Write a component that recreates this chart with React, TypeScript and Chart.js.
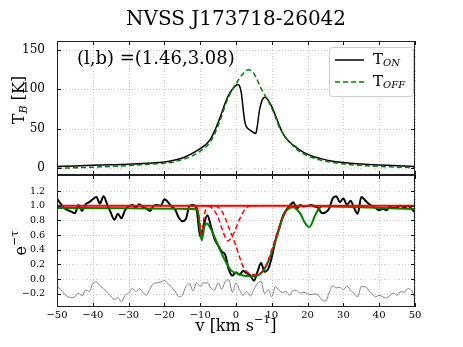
import React, { useEffect, useRef } from 'react';
import { Chart, registerables } from 'chart.js';

Chart.register(...registerables);

const SERIF = '"DejaVu Serif", "Liberation Serif", serif';

// ---------- Title / labels ----------
const titleText = 'NVSS J173718-26042';
const positionText = '(l,b) =(1.46,3.08)';

// ---------- Tick values ----------
const velocityTicks = [-50, -40, -30, -20, -10, 0, 10, 20, 30, 40, 50];
const emissionTicks = [0, 50, 100, 150];
const absorptionTicks = [-0.2, 0, 0.2, 0.4, 0.6, 0.8, 1.0, 1.2];

// ---------- Top panel: emission spectra ----------
const tOnVelocity = [-50, -45, -40, -35, -30, -25, -20, -17, -15, -13, -11, -9, -8, -7, -6, -5, -4, -3, -2, -1, 0, 0.5, 1, 1.5, 2, 2.5, 3, 4, 5, 5.5, 6, 6.5, 7, 7.5, 8.2, 9, 10, 11, 12, 13, 14, 15, 17, 19, 21, 24, 27, 30, 35, 40, 45, 50];
const tOnValues = [2.5, 3, 3.8, 4.5, 5.3, 6.5, 8, 10.5, 13, 17, 22, 28, 32, 38, 47, 58, 70, 83, 93, 100, 105, 106, 104, 95, 75, 58, 52, 48, 45, 44, 55, 72, 82, 88, 90, 86, 78, 67, 55, 45, 38, 33, 26, 20, 16, 12, 9, 7.5, 5.5, 4.2, 3.3, 2.5];

const tOffVelocity = [-50, -40, -30, -25, -20, -17, -15, -13, -11, -9, -8, -7, -6, -5, -4, -3, -2, -1, 0, 1, 2, 3, 3.5, 4, 5, 6, 7, 8, 9, 10, 11, 12, 13, 14, 15, 17, 19, 21, 24, 27, 30, 35, 40, 45, 50];
const tOffValues = [0, 1.5, 3.5, 5, 6.5, 8.5, 11, 14, 19, 25, 29, 35, 43, 54, 66, 80, 91, 100, 107, 114, 120, 124, 124.5, 124, 120, 111, 101, 93, 85, 76, 65, 53, 45, 38, 33, 24, 18, 14, 10, 7.5, 5.5, 3.5, 2.5, 1.5, 1];

// ---------- Bottom panel: absorption ----------
const absVelocity = [-50, -49, -48, -47, -46, -45, -44, -43, -42, -41, -40, -39, -38, -37, -36, -35, -34, -33, -32, -31, -30, -29, -28, -27, -26, -25, -24, -23, -22, -21, -20, -19, -18, -17, -16, -15, -14, -13, -12, -11, -10, -9, -8, -7, -6, -5, -4, -3, -2, -1, 0, 1, 2, 3, 4, 5, 6, 7, 8, 9, 10, 11, 12, 13, 14, 15, 16, 17, 18, 19, 20, 21, 22, 23, 24, 25, 26, 27, 28, 29, 30, 31, 32, 33, 34, 35, 36, 37, 38, 39, 40, 41, 42, 43, 44, 45, 46, 47, 48, 49, 50];
const absObserved = [1.10, 1.03, 0.97, 0.94, 0.92, 0.90, 1.01, 0.93, 1.02, 1.05, 1.09, 1.12, 1.03, 1.13, 1.02, 0.91, 0.81, 0.89, 0.83, 0.94, 0.99, 1.01, 0.98, 1.02, 0.98, 0.96, 0.93, 1.00, 1.01, 1.00, 1.09, 1.05, 0.99, 0.95, 0.84, 0.79, 0.82, 1.00, 1.01, 0.95, 0.58, 0.74, 0.87, 0.72, 0.55, 0.46, 0.38, 0.33, 0.13, 0.05, 0.09, 0.06, 0.11, 0.08, 0.05, -0.02, 0.10, 0.22, 0.10, 0.14, 0.30, 0.52, 0.68, 0.85, 0.94, 1.00, 1.05, 0.96, 1.01, 0.99, 1.00, 1.01, 0.99, 0.97, 0.90, 0.91, 0.96, 1.10, 1.13, 1.05, 1.10, 1.01, 1.07, 0.97, 0.89, 1.12, 1.08, 1.03, 1.00, 0.97, 0.94, 0.96, 0.94, 0.99, 0.97, 0.98, 1.00, 0.98, 1.00, 0.96, 0.91];
const absResidual = [-0.09, -0.14, -0.20, -0.24, -0.25, -0.24, -0.19, -0.23, -0.15, -0.17, -0.06, -0.04, -0.09, -0.13, -0.18, -0.23, -0.28, -0.25, -0.31, -0.22, -0.19, -0.13, -0.17, -0.13, -0.18, -0.22, -0.13, -0.06, -0.05, -0.04, -0.02, -0.06, -0.11, -0.17, -0.24, -0.22, -0.10, -0.06, -0.16, -0.05, -0.10, -0.05, -0.05, -0.12, -0.15, -0.05, -0.14, -0.03, -0.01, -0.18, -0.05, -0.15, -0.22, -0.17, -0.23, -0.14, -0.06, -0.03, -0.20, -0.14, -0.24, -0.10, -0.15, -0.18, -0.17, -0.22, -0.15, -0.16, -0.19, -0.18, -0.20, -0.21, -0.20, -0.22, -0.28, -0.30, -0.19, -0.09, -0.12, -0.11, -0.14, -0.10, -0.15, -0.20, -0.24, -0.10, -0.10, -0.15, -0.20, -0.24, -0.22, -0.24, -0.26, -0.22, -0.19, -0.22, -0.17, -0.18, -0.13, -0.15, -0.26];

const fitVelocity = [-50, -30, -15, -12, -11, -10.5, -10, -9.6, -9.2, -8.8, -8.1, -7, -5.6, -4.2, -2.8, -1.4, 0.3, 2, 4, 6, 7, 8, 9, 10, 11, 12, 13, 14, 15, 16, 17, 18, 19, 20, 20.5, 21, 22, 23, 24, 26, 35, 50];
const fitValues = [0.97, 0.965, 0.96, 0.955, 0.95, 0.88, 0.66, 0.53, 0.61, 0.72, 0.76, 0.68, 0.53, 0.37, 0.23, 0.12, 0.08, 0.05, 0.04, 0.05, 0.08, 0.14, 0.24, 0.37, 0.52, 0.68, 0.83, 0.93, 0.97, 0.98, 0.95, 0.89, 0.79, 0.72, 0.71, 0.74, 0.86, 0.95, 0.99, 0.99, 0.98, 0.955];

const compAVelocity = [-13, -11, -10.5, -10, -9.7, -9.4, -9, -8.5, -8, -6];
const compAValues = [1, 0.99, 0.91, 0.72, 0.61, 0.66, 0.82, 0.95, 0.99, 1];
const compBVelocity = [-10, -8, -7, -6, -5, -4, -3, -2.3, -1.5, -0.5, 0.5, 1.5, 2.5, 3.5, 4.5, 6];
const compBValues = [1, 1, 0.98, 0.93, 0.84, 0.70, 0.57, 0.52, 0.55, 0.64, 0.76, 0.87, 0.95, 0.99, 1, 1];
const compCVelocity = [-8, -6, -5, -4, -3, -2, -1, 0, 1, 2, 3, 4, 5, 6, 7, 8, 9, 10, 11, 12, 13, 14, 15, 16, 18];
const compCValues = [1, 1, 0.98, 0.93, 0.83, 0.70, 0.58, 0.45, 0.30, 0.17, 0.10, 0.07, 0.06, 0.07, 0.09, 0.15, 0.26, 0.40, 0.56, 0.71, 0.84, 0.93, 0.98, 1, 1];

const baselineVelocity = [-50, 50];
const baselineValues = [1, 1];

// ---------- helpers ----------
const pts = (xs: number[], ys: number[]) => xs.map((x, i) => ({ x, y: ys[i] }));
const minus = (s: string) => s.replace('-', '\u2212');

type Part = { t: string; size: number; italic?: boolean; dy?: number };
function drawRich(ctx: CanvasRenderingContext2D, parts: Part[], x: number, y: number, align: 'left' | 'center', rotate = false) {
  ctx.save();
  ctx.fillStyle = '#000';
  ctx.textBaseline = 'middle';
  ctx.textAlign = 'left';
  const font = (p: Part) => `${p.italic ? 'italic ' : ''}${p.size}px ${SERIF}`;
  let total = 0;
  for (const p of parts) { ctx.font = font(p); total += ctx.measureText(p.t).width; }
  ctx.translate(x, y);
  if (rotate) ctx.rotate(-Math.PI / 2);
  let cx = align === 'center' ? -total / 2 : 0;
  for (const p of parts) {
    ctx.font = font(p);
    ctx.fillText(p.t, cx, p.dy || 0);
    cx += ctx.measureText(p.t).width;
  }
  ctx.restore();
}

const framePlugin = {
  id: 'frameGrid',
  beforeDatasetsDraw(chart: any) {
    const { ctx, chartArea: a, scales } = chart;
    ctx.save();
    ctx.strokeStyle = 'rgba(0,0,0,0.2)';
    ctx.lineWidth = 1;
    ctx.setLineDash([1, 2]);
    for (const t of scales.x.ticks) {
      const px = Math.round(scales.x.getPixelForValue(t.value)) + 0.5;
      ctx.beginPath(); ctx.moveTo(px, a.top); ctx.lineTo(px, a.bottom); ctx.stroke();
    }
    for (const t of scales.y.ticks) {
      const py = Math.round(scales.y.getPixelForValue(t.value)) + 0.5;
      ctx.beginPath(); ctx.moveTo(a.left, py); ctx.lineTo(a.right, py); ctx.stroke();
    }
    ctx.restore();
  },
  afterDatasetsDraw(chart: any) {
    const { ctx, chartArea: a, scales } = chart;
    ctx.save();
    ctx.strokeStyle = '#111';
    ctx.lineWidth = 1;
    ctx.setLineDash([]);
    const L = 4;
    for (const t of scales.x.ticks) {
      const px = Math.round(scales.x.getPixelForValue(t.value)) + 0.5;
      ctx.beginPath(); ctx.moveTo(px, a.top); ctx.lineTo(px, a.top + L); ctx.stroke();
      ctx.beginPath(); ctx.moveTo(px, a.bottom); ctx.lineTo(px, a.bottom - L); ctx.stroke();
    }
    for (const t of scales.y.ticks) {
      const py = Math.round(scales.y.getPixelForValue(t.value)) + 0.5;
      ctx.beginPath(); ctx.moveTo(a.left, py); ctx.lineTo(a.left + L, py); ctx.stroke();
      ctx.beginPath(); ctx.moveTo(a.right, py); ctx.lineTo(a.right - L, py); ctx.stroke();
    }
    ctx.strokeStyle = '#222';
    ctx.strokeRect(Math.round(a.left) + 0.5, Math.round(a.top) + 0.5, Math.round(a.right - a.left) - 1, Math.round(a.bottom - a.top) - 1);
    ctx.restore();
  },
};

const topTextPlugin = {
  id: 'topText',
  afterDraw(chart: any) {
    const ctx = chart.ctx as CanvasRenderingContext2D;
    drawRich(ctx, [{ t: titleText, size: 20 }], 236, 20, 'center');
    drawRich(ctx, [{ t: positionText, size: 18 }], 77, 59, 'left');
    drawRich(ctx, [{ t: 'T', size: 16 }, { t: 'B', size: 11, italic: true, dy: 4 }, { t: ' [K]', size: 16 }], 20, 100, 'center', true);
    // legend
    ctx.save();
    ctx.fillStyle = 'rgba(255,255,255,0.85)';
    ctx.strokeStyle = '#cccccc';
    ctx.lineWidth = 1;
    const bx = 329.5, by = 47.5, bw = 84, bh = 49, r = 3;
    ctx.beginPath();
    ctx.moveTo(bx + r, by); ctx.lineTo(bx + bw - r, by); ctx.arcTo(bx + bw, by, bx + bw, by + r, r);
    ctx.lineTo(bx + bw, by + bh - r); ctx.arcTo(bx + bw, by + bh, bx + bw - r, by + bh, r);
    ctx.lineTo(bx + r, by + bh); ctx.arcTo(bx, by + bh, bx, by + bh - r, r);
    ctx.lineTo(bx, by + r); ctx.arcTo(bx, by, bx + r, by, r);
    ctx.closePath(); ctx.fill(); ctx.stroke();
    ctx.lineWidth = 1.5;
    ctx.strokeStyle = '#000';
    ctx.beginPath(); ctx.moveTo(335, 60); ctx.lineTo(364, 60); ctx.stroke();
    ctx.strokeStyle = '#008000';
    ctx.setLineDash([5, 3]);
    ctx.beginPath(); ctx.moveTo(335, 82); ctx.lineTo(364, 82); ctx.stroke();
    ctx.restore();
    drawRich(ctx, [{ t: 'T', size: 15 }, { t: 'ON', size: 10, italic: true, dy: 3 }], 373, 60, 'left');
    drawRich(ctx, [{ t: 'T', size: 15 }, { t: 'OFF', size: 10, italic: true, dy: 3 }], 373, 82, 'left');
  },
};

const botTextPlugin = {
  id: 'botText',
  afterDraw(chart: any) {
    const ctx = chart.ctx as CanvasRenderingContext2D;
    const xs = chart.scales.x;
    const a = chart.chartArea;
    ctx.save();
    ctx.fillStyle = '#000';
    ctx.font = `10px ${SERIF}`;
    ctx.textAlign = 'center';
    ctx.textBaseline = 'middle';
    for (const t of xs.ticks) {
      ctx.fillText(minus(String(t.value)), xs.getPixelForValue(t.value), a.bottom + 8.5);
    }
    ctx.restore();
    drawRich(ctx, [{ t: 'e', size: 16 }, { t: '\u2212\u03c4', size: 11, dy: -7 }], 22, 68, 'center', true);
    drawRich(ctx, [{ t: 'v [km s', size: 16 }, { t: '\u22121', size: 11, dy: -7 }, { t: ']', size: 16 }], 236, 152, 'center');
  },
};

function fixY(width: number) {
  return (s: any) => { s.width = width; s.paddingTop = 0; s.paddingBottom = 0; s.paddingLeft = 0; s.paddingRight = 0; };
}
function fixX(height: number) {
  return (s: any) => { s.height = height; s.paddingTop = 0; s.paddingBottom = 0; s.paddingLeft = 0; s.paddingRight = 0; };
}
const useTicks = (values: number[]) => (s: any) => { s.ticks = values.map((value) => ({ value })); };

const line = (data: any[], color: string, width: number, dash: number[] = []) => ({
  data,
  borderColor: color,
  backgroundColor: color,
  borderWidth: width,
  borderDash: dash,
  pointRadius: 0,
  fill: false,
  cubicInterpolationMode: 'monotone' as const,
});

export default function App() {
  const topRef = useRef<HTMLCanvasElement>(null);
  const botRef = useRef<HTMLCanvasElement>(null);

  useEffect(() => {
    const top = new Chart(topRef.current!, {
      type: 'line',
      data: {
        datasets: [
          line(pts(tOffVelocity, tOffValues), '#008000', 1.5, [5, 3]),
          line(pts(tOnVelocity, tOnValues), '#000000', 1.5),
        ],
      },
      options: {
        animation: false,
        responsive: false,
        events: [],
        layout: { padding: { top: 41, right: 48, left: 0, bottom: 0 } },
        plugins: { legend: { display: false }, tooltip: { enabled: false }, title: { display: false } },
        scales: {
          x: {
            type: 'linear', min: -50, max: 50, bounds: 'data',
            ticks: { display: false },
            grid: { display: false }, border: { display: false },
            afterBuildTicks: useTicks(velocityTicks),
            afterFit: fixX(0),
          },
          y: {
            type: 'linear', min: -8.4, max: 161, bounds: 'data',
            ticks: { padding: 4, color: '#000', font: { family: SERIF, size: 12 }, callback: (v: any) => String(v) },
            grid: { display: false }, border: { display: false },
            afterBuildTicks: useTicks(emissionTicks),
            afterFit: fixY(57),
          },
        },
      } as any,
      plugins: [framePlugin, topTextPlugin],
    });

    const bot = new Chart(botRef.current!, {
      type: 'line',
      data: {
        datasets: [
          line(pts(baselineVelocity, baselineValues), '#ff0000', 2),
          line(pts(compAVelocity, compAValues), '#ff0000', 1.5, [5, 3]),
          line(pts(compBVelocity, compBValues), '#ff0000', 1.5, [5, 3]),
          line(pts(compCVelocity, compCValues), '#ff0000', 1.5, [5, 3]),
          line(pts(fitVelocity, fitValues), '#008000', 2),
          line(pts(absVelocity, absObserved), '#000000', 2),
          line(pts(absVelocity, absResidual), '#808080', 1),
        ],
      },
      options: {
        animation: false,
        responsive: false,
        events: [],
        layout: { padding: { top: 0, right: 48, left: 0, bottom: 0 } },
        plugins: { legend: { display: false }, tooltip: { enabled: false }, title: { display: false } },
        scales: {
          x: {
            type: 'linear', min: -50, max: 50, bounds: 'data',
            ticks: { display: false },
            grid: { display: false }, border: { display: false },
            afterBuildTicks: useTicks(velocityTicks),
            afterFit: fixX(40),
          },
          y: {
            type: 'linear', min: -0.38, max: 1.42, bounds: 'data',
            ticks: { padding: 4, color: '#000', font: { family: SERIF, size: 9.5 }, callback: (v: any) => minus(Number(v).toFixed(1)) },
            grid: { display: false }, border: { display: false },
            afterBuildTicks: useTicks(absorptionTicks),
            afterFit: fixY(57),
          },
        },
      } as any,
      plugins: [framePlugin, botTextPlugin],
    });

    return () => { top.destroy(); bot.destroy(); };
  }, []);

  return (
    <div style={{ position: 'fixed', left: 0, top: 0, width: 463, height: 347, background: '#fff' }}>
      <canvas ref={topRef} width={463} height={175} style={{ position: 'absolute', left: 0, top: 0, display: 'block' }} />
      <canvas ref={botRef} width={463} height={172} style={{ position: 'absolute', left: 0, top: 175, display: 'block' }} />
    </div>
  );
}
